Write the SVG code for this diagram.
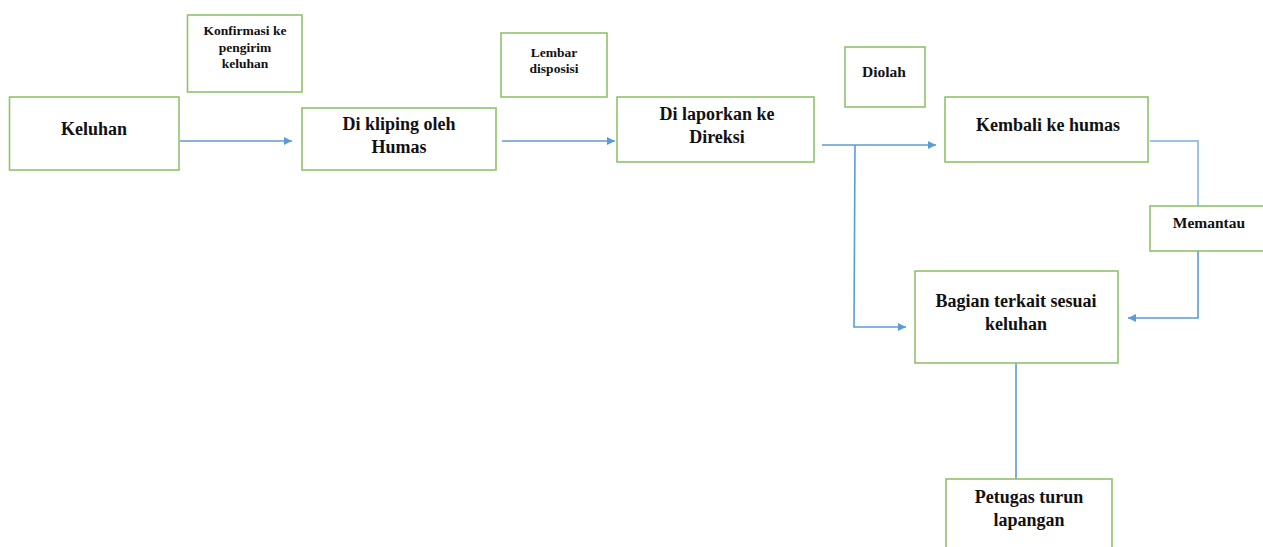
<svg xmlns="http://www.w3.org/2000/svg" width="1263" height="547" viewBox="0 0 1263 547">
<style>
.box{fill:#fff;stroke:#8fc46a;stroke-width:1.6}
.t{font-family:"Liberation Serif","Times New Roman",serif;font-weight:bold;fill:#111;text-anchor:middle}
.big{font-size:18px}
.sm{font-size:13.5px}
.md{font-size:15.5px}
.c{fill:none;stroke:#5b9bd5;stroke-width:1.6}
</style>
<defs>
<marker id="ah" markerWidth="10" markerHeight="10" refX="8" refY="4" orient="auto" markerUnits="userSpaceOnUse">
<path d="M0,0 L8,4 L0,8 Z" fill="#5b9bd5"/>
</marker>
</defs>
<rect width="1263" height="547" fill="#fff"/>
<g id="connectors">
<line class="c" x1="180" y1="141" x2="292" y2="141" marker-end="url(#ah)"/>
<line class="c" x1="502" y1="141" x2="615" y2="141" marker-end="url(#ah)"/>
<line class="c" x1="822" y1="145" x2="936" y2="145" marker-end="url(#ah)"/>
<polyline class="c" points="855,145 854,327 906,327" marker-end="url(#ah)"/>
<polyline class="c" points="1150,141 1198,141 1198,206" style="stroke:#9cc3e6;stroke-width:2"/>
<polyline class="c" points="1198,251 1198,318 1128,318" marker-end="url(#ah)"/>
<line class="c" x1="1016" y1="363" x2="1016" y2="479"/>
</g>
<g id="keluhan">
<rect class="box" x="9.5" y="97" width="169.5" height="73"/>
<text class="t big" x="94" y="135">Keluhan</text>
</g>
<g id="konfirmasi">
<rect class="box" x="187.5" y="15" width="114.5" height="77"/>
<text class="t sm" x="245" y="35">Konfirmasi ke</text>
<text class="t sm" x="245" y="51.5">pengirim</text>
<text class="t sm" x="245" y="68">keluhan</text>
</g>
<g id="kliping">
<rect class="box" x="302" y="108" width="194" height="62"/>
<text class="t big" x="399" y="130">Di kliping oleh</text>
<text class="t big" x="399" y="153">Humas</text>
</g>
<g id="lembar">
<rect class="box" x="501" y="33" width="106" height="64"/>
<text class="t sm" x="554" y="57">Lembar</text>
<text class="t sm" x="554" y="73">disposisi</text>
</g>
<g id="laporkan">
<rect class="box" x="617" y="97" width="197" height="65"/>
<text class="t big" x="717" y="120">Di laporkan ke</text>
<text class="t big" x="717" y="143">Direksi</text>
</g>
<g id="diolah">
<rect class="box" x="845" y="47" width="80" height="60"/>
<text class="t md" x="884" y="77">Diolah</text>
</g>
<g id="kembali">
<rect class="box" x="945" y="97" width="203" height="65"/>
<text class="t big" x="1048" y="131">Kembali ke humas</text>
</g>
<g id="memantau">
<rect class="box" x="1150" y="206" width="120" height="45"/>
<text class="t md" x="1209" y="228">Memantau</text>
</g>
<g id="bagian">
<rect class="box" x="915" y="271" width="203" height="92"/>
<text class="t big" x="1016" y="307">Bagian terkait sesuai</text>
<text class="t big" x="1016" y="330">keluhan</text>
</g>
<g id="petugas">
<rect class="box" x="946" y="479" width="166" height="70"/>
<text class="t big" x="1029" y="503">Petugas turun</text>
<text class="t big" x="1029" y="526">lapangan</text>
</g>
</svg>
